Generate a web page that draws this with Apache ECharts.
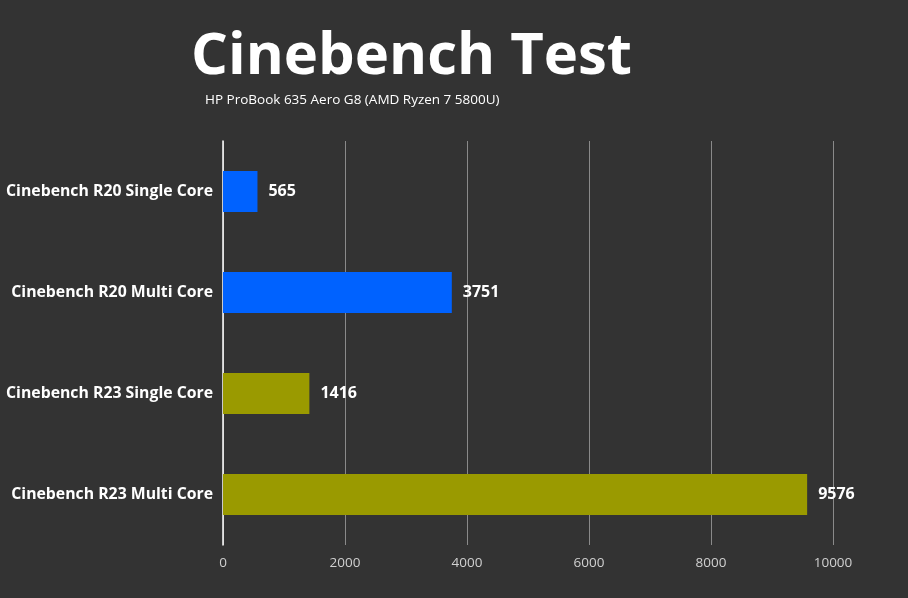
<!DOCTYPE html>
<html>
<head lang="en">
    <meta charset="UTF-8">
    <title>Cinebench Test</title>
    <style>
        html, body { margin: 0; padding: 0; background: #333333; }
    </style>
</head>
<body>
<div id="mychart" style="width: 908px;height: 598px;"></div>
<script src="https://cdn.jsdelivr.net/npm/echarts@6/dist/echarts.min.js"></script>
<script>
// 数据
var categories = ['Cinebench R20 Single Core', 'Cinebench R20 Multi Core', 'Cinebench R23 Single Core', 'Cinebench R23 Multi Core'];
var scores = [565, 3751, 1416, 9576];
var barColors = ['#0062ff', '#0062ff', '#9a9a00', '#9a9a00'];
var xTicks = [0, 2000, 4000, 6000, 8000, 10000];

var myChart = echarts.init(document.getElementById('mychart'));

var option = {
    backgroundColor: '#333333',
    title: [
        {
            text: 'Cinebench Test',
            left: 186,
            top: 23,
            textStyle: {
                color: '#ffffff',
                fontFamily: 'Open Sans',
                fontWeight: 'bold',
                fontSize: 58
            }
        },
        {
            text: 'HP ProBook 635 Aero G8 (AMD Ryzen 7 5800U)',
            left: 200,
            top: 88,
            textStyle: {
                color: '#ffffff',
                fontFamily: 'Open Sans',
                fontWeight: 'normal',
                fontSize: 13.5
            }
        }
    ],
    grid: {
        left: 223,
        right: 75,
        top: 141,
        bottom: 53
    },
    xAxis: {
        type: 'value',
        min: xTicks[0],
        max: xTicks[xTicks.length - 1],
        interval: 2000,
        axisLine: { show: false },
        axisTick: { show: false },
        axisLabel: {
            color: '#d0d0d0',
            fontFamily: 'Open Sans',
            fontSize: 13.5,
            margin: 11,
            formatter: function (v) { return String(v); }
        },
        splitLine: {
            lineStyle: { color: '#8a8a8a', width: 1 }
        }
    },
    yAxis: {
        type: 'category',
        data: categories,
        inverse: true,
        axisTick: { show: false },
        axisLine: {
            show: true,
            lineStyle: { color: '#ffffff', width: 1.5 }
        },
        axisLabel: {
            color: '#ffffff',
            fontFamily: 'Open Sans',
            fontWeight: 'bold',
            fontSize: 15.8,
            margin: 10
        }
    },
    series: [
        {
            type: 'bar',
            data: scores.map(function (v, i) {
                return { value: v, itemStyle: { color: barColors[i] } };
            }),
            barWidth: 41,
            label: {
                show: true,
                position: 'right',
                distance: 11,
                color: '#ffffff',
                fontFamily: 'Open Sans',
                fontWeight: 'bold',
                fontSize: 16
            }
        }
    ]
};

myChart.setOption(option);
</script>
</body>
</html>
